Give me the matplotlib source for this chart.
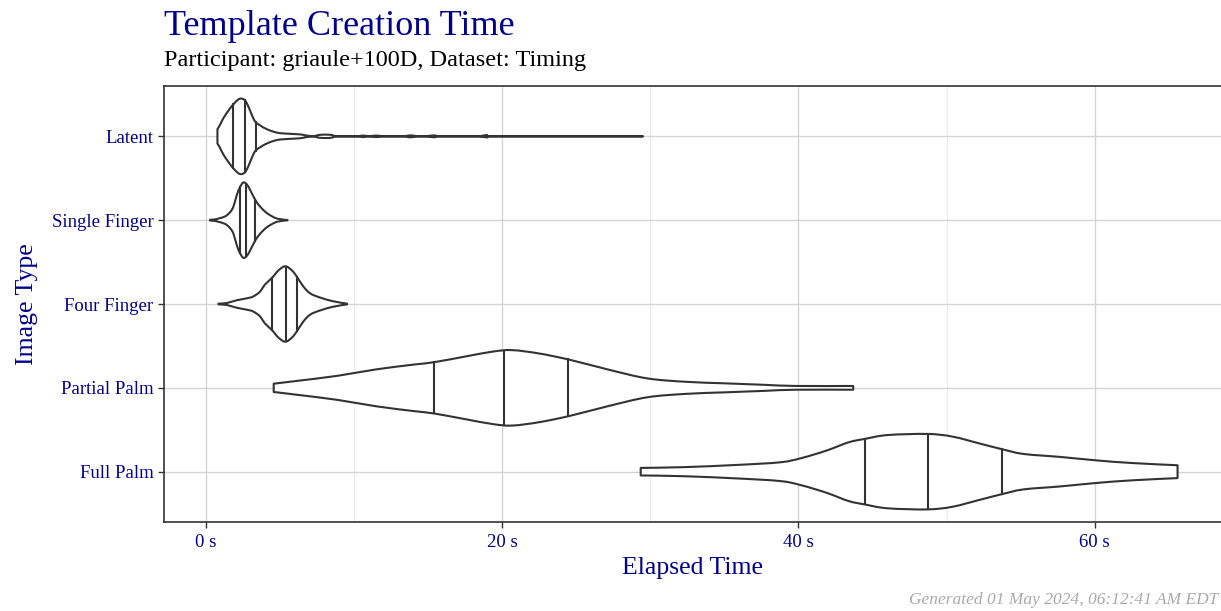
import numpy as np
import matplotlib.pyplot as plt
from matplotlib.path import Path
from matplotlib.patches import PathPatch

# categories, top to bottom
categories = ['Latent', 'Single Finger', 'Four Finger', 'Partial Palm', 'Full Palm']

# violin outlines: time (s) and relative half-width (1 = widest)
latent_t = [0.77, 0.95, 1.17, 1.51, 1.85, 2.19, 2.41, 2.64, 2.86, 3.09, 3.32, 3.65, 4.1, 4.67,
            5.12, 6.02, 6.47, 6.8, 7.3, 7.6, 8.05, 8.5, 8.8, 10.2, 10.6, 11.0, 11.5, 12.0,
            13.3, 13.8, 14.3, 14.9, 15.4, 15.9, 18.5, 19.0, 19.5, 29.5]
latent_w = [0.19, 0.31, 0.48, 0.68, 0.85, 0.98, 1.0, 0.95, 0.79, 0.57, 0.39, 0.29, 0.19, 0.11,
            0.08, 0.06, 0.045, 0.02, 0.005, 0.035, 0.045, 0.035, 0.005, 0.005, 0.02, 0.005, 0.02, 0.005,
            0.005, 0.025, 0.005, 0.005, 0.025, 0.005, 0.005, 0.025, 0.005, 0.005]
latent_q = [1.85, 2.64, 3.36]

single_t = [0.27, 0.6, 0.84, 1.29, 1.62, 1.85, 2.08, 2.3, 2.52, 2.75, 2.98, 3.32, 3.65, 4.1,
            4.67, 5.12, 5.5]
single_w = [0.01, 0.02, 0.044, 0.10, 0.21, 0.36, 0.67, 0.88, 1.0, 0.95, 0.8, 0.54, 0.36, 0.19,
            0.06, 0.02, 0.005]
single_q = [2.3, 2.72, 3.32]

four_t = [0.84, 1.4, 2.08, 2.98, 3.32, 3.65, 3.99, 4.45, 4.89, 5.35, 5.8, 6.14, 6.58, 7.04,
          7.71, 8.61, 9.52]
four_w = [0.01, 0.026, 0.1, 0.17, 0.23, 0.33, 0.52, 0.69, 0.89, 1.0, 0.89, 0.72, 0.46, 0.28,
          0.17, 0.07, 0.01]
four_q = [4.45, 5.4, 6.14]

partial_t = [4.57, 6.27, 8.89, 11.5, 14.1, 15.4, 17.5, 19.35, 20.66, 22.5, 24.6, 27.2, 29.8,
             32.4, 35.0, 37.7, 39.8, 43.7]
partial_w = [0.11, 0.19, 0.32, 0.49, 0.62, 0.68, 0.83, 0.96, 1.0, 0.91, 0.74, 0.48, 0.25,
             0.16, 0.12, 0.08, 0.05, 0.05]
partial_q = [15.4, 20.1, 24.45]

full_t = [29.35, 32.25, 35.9, 38.8, 40.2, 41.9, 43.4, 44.5, 46.0, 48.7, 50.4, 52.3, 53.8,
          55.2, 57.7, 60.1, 62.5, 65.6]
full_w = [0.1, 0.12, 0.18, 0.25, 0.36, 0.56, 0.78, 0.87, 0.97, 1.0, 0.93, 0.74, 0.59,
          0.47, 0.39, 0.30, 0.23, 0.17]
full_q = [44.5, 48.75, 53.75]

profiles = [(latent_t, latent_w, latent_q), (single_t, single_w, single_q),
            (four_t, four_w, four_q), (partial_t, partial_w, partial_q),
            (full_t, full_w, full_q)]

xticks = [0, 20, 40, 60]
xtick_labels = ['0 s', '20 s', '40 s', '60 s']

navy = '#00008B'
line_col = '#333333'
plt.rcParams['font.family'] = ['Liberation Serif', 'DejaVu Serif']


def smooth_segments(pts):
    # catmull-rom through the knots, written as cubic bezier pieces
    verts, codes = [], []
    m = len(pts)
    for k in range(m - 1):
        p0 = pts[max(k - 1, 0)]
        p1 = pts[k]
        p2 = pts[k + 1]
        p3 = pts[min(k + 2, m - 1)]
        c1 = p1 + (p2 - p0) / 6.0
        c2 = p2 - (p3 - p1) / 6.0
        verts += [c1, c2, p2]
        codes += [Path.CURVE4] * 3
    return verts, codes


fig = plt.figure(figsize=(12.21, 6.11), dpi=100)
ax = fig.add_axes([0.1343, 0.1457, 0.8665, 0.7135])

half_max = 0.45
n = len(categories)
for i, (t, w, q) in enumerate(profiles):
    y0 = n - i
    t = np.array(t)
    w = np.array(w) * half_max
    upper = np.column_stack([t, y0 + w])
    lower = np.column_stack([t[::-1], (y0 - w)[::-1]])
    verts = [upper[0]]
    codes = [Path.MOVETO]
    v, c = smooth_segments(upper)
    verts += v
    codes += c
    verts.append(lower[0])
    codes.append(Path.LINETO)
    v, c = smooth_segments(lower)
    verts += v
    codes += c
    verts.append(upper[0])
    codes.append(Path.CLOSEPOLY)
    patch = PathPatch(Path(np.array(verts), codes), facecolor='white',
                      edgecolor=line_col, lw=1.5, zorder=3, joinstyle='round')
    ax.add_patch(patch)
    for qv in q:
        hw = np.interp(qv, t, w)
        ax.plot([qv, qv], [y0 - hw, y0 + hw], color=line_col, lw=1.5, zorder=4)

ax.set_xlim(-2.84, 68.6)
ax.set_ylim(0.4, n + 0.6)
ax.set_xticks(xticks)
ax.set_xticklabels(xtick_labels)
ax.set_xticks([10, 30, 50], minor=True)
ax.set_yticks(range(n, 0, -1))
ax.set_yticklabels(categories)
ax.tick_params(axis='both', which='major', labelsize=13.5, labelcolor=navy,
               color=line_col, length=4, width=1)
ax.tick_params(axis='x', which='major', pad=5)
ax.tick_params(axis='x', which='minor', length=0)
ax.grid(which='major', color='#d4d4d4', lw=1, zorder=0)
ax.grid(which='minor', axis='x', color='#ebebeb', lw=0.8, zorder=0)
ax.set_axisbelow(True)
for s in ['left', 'bottom', 'top']:
    ax.spines[s].set_color(line_col)
    ax.spines[s].set_linewidth(1.2)
ax.spines['right'].set_visible(False)

ax.set_xlabel('Elapsed Time', fontsize=18.5, color=navy, labelpad=4)
ax.set_ylabel('Image Type', fontsize=18.5, color=navy, labelpad=10)

fig.text(0.1343, 0.943, 'Template Creation Time', fontsize=26, color=navy,
         ha='left', va='baseline')
fig.text(0.1343, 0.892, 'Participant: griaule+100D, Dataset: Timing', fontsize=17.5,
         color='black', ha='left', va='baseline')
fig.text(0.998, 0.012, 'Generated 01 May 2024, 06:12:41 AM EDT', fontsize=12.5,
         color='#aaaaaa', style='italic', ha='right', va='baseline')

fig.savefig('out.png', dpi=100)
